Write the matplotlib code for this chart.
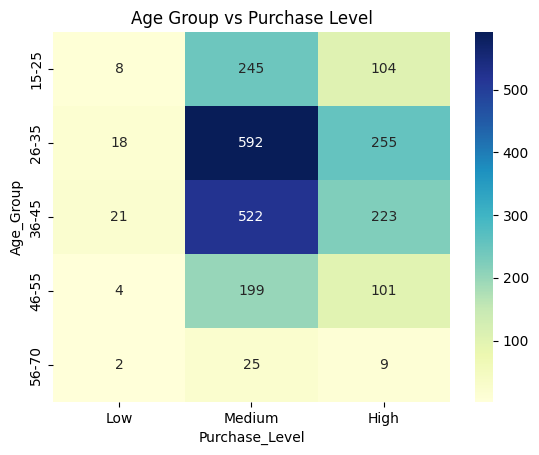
import numpy as np
import pandas as pd
import matplotlib
matplotlib.use('Agg')
import matplotlib.pyplot as plt
import seaborn as sns

age_groups = ['15-25', '26-35', '36-45', '46-55', '56-70']
levels = ['Low', 'Medium', 'High']
low = [8, 18, 21, 4, 2]
medium = [245, 592, 522, 199, 25]
high = [104, 255, 223, 101, 9]

table = pd.DataFrame({'Low': low, 'Medium': medium, 'High': high}, index=age_groups)[levels]
table.index.name = 'Age_Group'
table.columns.name = 'Purchase_Level'

fig = plt.figure(figsize=(5.39, 4.55), dpi=100)
# axes placed by hand to match the reference pixels
ax = fig.add_axes([53/539, 53/455, 397/539, 370/455])
cax = fig.add_axes([475/539, 53/455, 18/539, 370/455])

sns.heatmap(table, annot=True, fmt='d', cmap='YlGnBu', ax=ax, cbar_ax=cax)
ax.set_title('Age Group vs Purchase Level')

fig.savefig('out.png', dpi=100)
